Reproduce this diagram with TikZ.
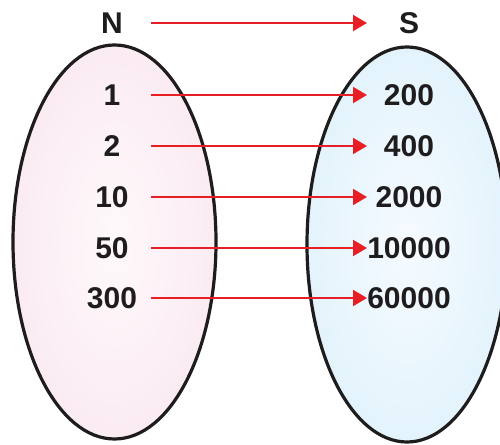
\documentclass[tikz,border=0pt]{standalone}
\usepackage{fontspec}
\setmainfont{Liberation Sans}
\usetikzlibrary{arrows.meta}
\definecolor{arrred}{RGB}{232,30,37}
\definecolor{pinkout}{RGB}{251,235,243}
\definecolor{pinkin}{RGB}{254,249,251}
\definecolor{blueout}{RGB}{227,243,252}
\definecolor{bluein}{RGB}{246,251,255}
\definecolor{outl}{RGB}{30,28,28}
\tikzset{
  setline/.style={draw=outl, line width=3.2bp},
  lab/.style={font=\fontsize{30bp}{34bp}\selectfont\bfseries, text=outl, inner sep=0pt, outer sep=0pt},
  leftlab/.style={lab, minimum width=78bp},
  rightlab/.style={lab, minimum width=84bp},
  arr/.style={draw=arrred, line width=2bp, -{Triangle[length=14bp,width=16bp]}}
}
\begin{document}
\begin{tikzpicture}[x=1bp,y=-1bp]
\useasboundingbox (0,0) rectangle (500,445);
\fill[white] (0,0) rectangle (500,445);
% sets
\shade[inner color=pinkin, outer color=pinkout] (114.5,242) ellipse [x radius=101.5, y radius=197];
\draw[setline] (114.5,242) ellipse [x radius=101.5, y radius=197];
\shade[inner color=bluein, outer color=blueout] (407,244.5) ellipse [x radius=100, y radius=197.5];
\draw[setline] (407,244.5) ellipse [x radius=100, y radius=197.5];
% headers
\node[leftlab] (N) at (112,23) {N};
\node[rightlab] (S) at (409,23) {S};
% elements
\node[leftlab] (n1) at (112,95) {1};
\node[leftlab] (n2) at (112,146) {2};
\node[leftlab] (n3) at (112,197) {10};
\node[leftlab] (n4) at (112,248) {50};
\node[leftlab] (n5) at (112,298) {300};
\node[rightlab] (s1) at (409,95) {200};
\node[rightlab] (s2) at (409,146) {400};
\node[rightlab] (s3) at (409,197) {2000};
\node[rightlab] (s4) at (409,248) {10000};
\node[rightlab] (s5) at (409,298) {60000};
% arrows
\draw[arr] (N.east) -- (S.west);
\draw[arr] (n1.east) -- (s1.west);
\draw[arr] (n2.east) -- (s2.west);
\draw[arr] (n3.east) -- (s3.west);
\draw[arr] (n4.east) -- (s4.west);
\draw[arr] (n5.east) -- (s5.west);
\end{tikzpicture}
\end{document}
